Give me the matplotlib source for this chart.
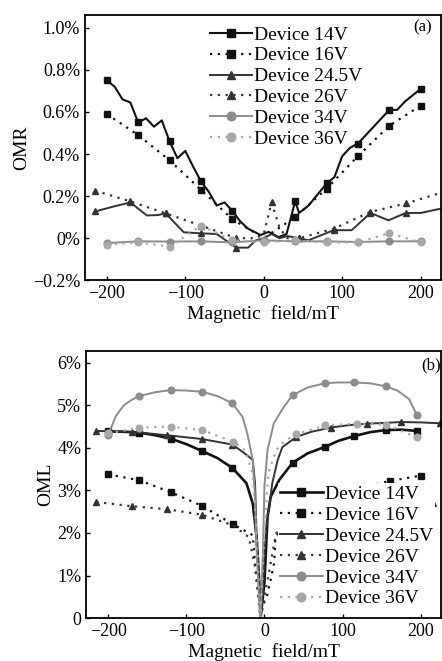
import matplotlib
matplotlib.use("Agg")
import matplotlib.pyplot as plt
import numpy as np

plt.rcParams['font.family'] = ['Liberation Serif', 'DejaVu Serif']

# ---------------- panel (a): OMR ----------------
a_field_14 = [-200, -190, -180, -170, -160, -150, -140, -130, -120, -110, -100, -90, -80, -70,
              -60, -50, -40, -30, -20, -4, 6, 19, 29, 40, 45, 57, 80, 90, 100, 110, 120,
              140, 160, 170, 180, 200]
a_omr_14 = [0.75, 0.72, 0.66, 0.645, 0.55, 0.57, 0.53, 0.56, 0.46, 0.38, 0.415, 0.34, 0.27, 0.22,
            0.155, 0.17, 0.13, 0.08, 0.045, 0.015, 0.03, 0.005, 0.02, 0.175, 0.12, 0.155, 0.26,
            0.29, 0.39, 0.43, 0.45, 0.53, 0.61, 0.61, 0.65, 0.71]
a_mark_14 = [-200, -160, -120, -80, -40, 40, 80, 120, 160, 200]

a_field_16 = [-200, -160, -120, -80, -40, 0, 40, 80, 120, 160, 200]
a_omr_16 = [0.59, 0.49, 0.37, 0.23, 0.09, 0.0, 0.10, 0.235, 0.39, 0.535, 0.63]
a_mark_16 = [-200, -160, -120, -80, -40, 40, 80, 120, 160, 200]

a_field_245 = [-215, -192, -170, -149, -135, -125, -102, -80, -60, -35, -20, -10, 0, 10, 20, 30,
               45, 57, 89, 112, 136, 159, 181, 200, 225]
a_omr_245 = [0.127, 0.15, 0.17, 0.108, 0.11, 0.118, 0.028, 0.023, 0.02, -0.045, -0.045, -0.01,
             0.0, 0.02, 0.0, 0.01, 0.0, -0.01, 0.038, 0.038, 0.12, 0.085, 0.12, 0.12, 0.14]
a_mark_245 = [-215, -170, -125, -80, -35, 45, 89, 136, 181]

a_field_26 = [-215, -170, -125, -80, -35, -10, 0, 10, 20, 30, 45, 89, 136, 181, 225]
a_omr_26 = [0.226, 0.175, 0.118, 0.06, 0.0, 0.0, 0.02, 0.17, 0.05, 0.0, 0.0, 0.045, 0.125,
            0.165, 0.215]
a_mark_26 = [-215, -170, -125, -80, -35, 10, 45, 89, 136, 181]

a_field_34 = [-200, -160, -120, -80, -40, 0, 40, 80, 120, 160, 200]
a_omr_34 = [-0.023, -0.015, -0.016, -0.015, -0.02, -0.01, -0.015, -0.015, -0.018, -0.015, -0.015]

a_field_36 = [-200, -160, -120, -80, -40, 0, 40, 80, 120, 160, 200]
a_omr_36 = [-0.03, -0.02, -0.04, 0.06, -0.01, -0.02, -0.01, -0.02, -0.02, 0.024, -0.02]

# ---------------- panel (b): OML ----------------
b_field_14 = [-200, -180, -160, -140, -120, -100, -80, -60, -41, -23, -15, -10, -6.5, -5, -2, 0,
              4, 8, 19, 36, 55, 78, 95, 115, 135, 155, 175, 195]
b_oml_14 = [4.39, 4.38, 4.36, 4.3, 4.22, 4.09, 3.93, 3.76, 3.53, 3.17, 2.7, 1.9, 0.8, 0.0, 0.5,
            0.85, 2.38, 2.85, 3.25, 3.65, 3.87, 4.03, 4.17, 4.28, 4.37, 4.42, 4.43, 4.4]
b_mark_14 = [-200, -160, -120, -80, -41, 36, 78, 115, 155, 195]

b_field_16 = [-200, -160, -120, -80, -40, -15, -12, -8, -5, -2, 3, 8, 12.5, 14, 40, 80, 120,
              160, 200]
b_oml_16 = [3.38, 3.24, 2.96, 2.64, 2.2, 1.95, 1.3, 0.6, 0.0, 0.3, 0.5, 0.9, 1.3, 1.9, 2.55,
            2.85, 3.05, 3.22, 3.35]
b_mark_16 = [-200, -160, -120, -80, -40, 40, 80, 120, 160, 200]

b_field_245 = [-215, -170, -125, -80, -41, -26, -15, -12, -10, -7, -5, -2, 0, 3, 6, 10, 17, 23,
               41, 60, 85, 110, 131, 155, 175, 200, 225]
b_oml_245 = [4.4, 4.38, 4.3, 4.21, 4.08, 3.88, 3.72, 3.17, 1.9, 0.8, 0.0, 0.6, 1.5, 2.3, 2.6,
             3.17, 3.72, 4.02, 4.26, 4.38, 4.48, 4.54, 4.57, 4.59, 4.61, 4.6, 4.58]
b_mark_245 = [-215, -170, -125, -80, -41, 41, 85, 131, 175, 225]

b_field_26 = [-215, -170, -125, -80, -40, -20, -12, -8, -5, 0, 10, 15, 40, 80, 125, 170, 215]
b_oml_26 = [2.73, 2.63, 2.56, 2.43, 2.18, 1.9, 1.2, 0.5, 0.0, 0.5, 1.5, 2.0, 2.3, 2.45, 2.55,
            2.63, 2.7]
b_mark_26 = [-215, -170, -125, -80, 40, 80, 125, 170, 215]

b_field_34 = [-200, -190, -180, -170, -160, -140, -120, -100, -80, -60, -41, -28, -22, -15,
              -12.5, -10, -6.5, -5, -2, 0, 4, 12, 25, 36, 55, 77, 95, 115, 135, 155, 170,
              185, 195]
b_oml_34 = [4.3, 4.75, 5.0, 5.13, 5.22, 5.31, 5.36, 5.35, 5.32, 5.22, 5.05, 4.73, 4.35, 3.72,
            3.0, 1.6, 0.3, 0.0, 1.5, 3.1, 3.95, 4.58, 4.97, 5.24, 5.42, 5.52, 5.54, 5.54,
            5.52, 5.45, 5.35, 5.15, 4.77]
b_mark_34 = [-200, -160, -120, -80, -41, 36, 77, 115, 155, 195]

b_field_36 = [-200, -160, -120, -80, -40, -25, -15, -10, -5, 0, 5, 15, 25, 40, 78, 118, 155,
              195]
b_oml_36 = [4.34, 4.48, 4.5, 4.42, 4.15, 3.95, 3.4, 2.0, 0.0, 2.0, 3.4, 3.95, 4.15, 4.32,
            4.53, 4.57, 4.55, 4.25]
b_mark_36 = [-200, -160, -120, -80, -40, 40, 78, 118, 155, 195]

labels = ['Device 14V', 'Device 16V', 'Device 24.5V', 'Device 26V', 'Device 34V', 'Device 36V']
colors = ['#111111', '#111111', '#333333', '#333333', '#8c8c8c', '#a8a8a8']
markers = ['s', 's', '^', '^', 'o', 'o']
dotted = (0, (1, 2.5))
styles = ['-', dotted, '-', dotted, '-', dotted]

a_series = [(a_field_14, a_omr_14, a_mark_14), (a_field_16, a_omr_16, a_mark_16),
            (a_field_245, a_omr_245, a_mark_245), (a_field_26, a_omr_26, a_mark_26),
            (a_field_34, a_omr_34, a_field_34), (a_field_36, a_omr_36, a_field_36)]
b_series = [(b_field_14, b_oml_14, b_mark_14), (b_field_16, b_oml_16, b_mark_16),
            (b_field_245, b_oml_245, b_mark_245), (b_field_26, b_oml_26, b_mark_26),
            (b_field_34, b_oml_34, b_mark_34), (b_field_36, b_oml_36, b_mark_36)]

a_yticks = [-0.2, 0, 0.2, 0.4, 0.6, 0.8, 1.0]
a_yticklabels = ['\u22120.2%', '0%', '0.2%', '0.4%', '0.6%', '0.8%', '1.0%']
b_yticks = [0, 1, 2, 3, 4, 5, 6]
b_yticklabels = ['0', '1%', '2%', '3%', '4%', '5%', '6%']
xticks = [-200, -100, 0, 100, 200]
xticklabels = ['\u2212200', '\u2212100', '0', '100', '200']

fig = plt.figure(figsize=(4.42, 6.61), dpi=100)
ax1 = fig.add_axes([0.192, 0.576, 0.806, 0.401])
ax2 = fig.add_axes([0.195, 0.065, 0.803, 0.404])


def draw(ax, series, lw_main):
    handles = []
    for i, (x, y, mk) in enumerate(series):
        x = np.asarray(x, dtype=float)
        idx = list(np.where(np.isin(x, mk))[0])
        lw = lw_main if i == 0 else 1.4
        if styles[i] is dotted:
            lw = 1.6
        h, = ax.plot(x, y, color=colors[i], ls=styles[i], lw=lw, marker=markers[i],
                     markersize=4.8, markevery=idx, label=labels[i])
        handles.append(h)
    return handles


h1 = draw(ax1, a_series, 1.5)
h2 = draw(ax2, b_series, 1.9)

for ax in (ax1, ax2):
    ax.set_xlim(-228, 226)
    ax.set_xticks(xticks)
    ax.set_xticklabels(xticklabels)
    ax.tick_params(direction='in', labelsize=13, length=3, width=1)
    ax.set_xlabel('Magnetic  field/mT', fontsize=14, labelpad=2)
    for s in ax.spines.values():
        s.set_linewidth(1.3)

ax1.set_ylim(-0.2, 1.06)
ax1.set_yticks(a_yticks)
ax1.set_yticklabels(a_yticklabels)
ax1.set_ylabel('OMR', fontsize=14, labelpad=2)
ax1.text(0.975, 0.985, '(a)', transform=ax1.transAxes, ha='right', va='top', fontsize=12)
ax1.legend(handles=h1, loc='upper left', bbox_to_anchor=(0.32, 1.0), frameon=False,
           fontsize=14, labelspacing=0.17, handlelength=2.2, handletextpad=0.1,
           borderaxespad=0.35, borderpad=0.2, markerscale=1.3)

ax2.set_ylim(0, 6.28)
ax2.set_yticks(b_yticks)
ax2.set_yticklabels(b_yticklabels)
ax2.set_ylabel('OML', fontsize=14, labelpad=2)
ax2.text(1.0, 0.975, '(b)', transform=ax2.transAxes, ha='right', va='top', fontsize=12)
ax2.legend(handles=h2, loc='lower left', bbox_to_anchor=(0.535, 0.025), frameon=True,
           fontsize=14, labelspacing=0.17, handlelength=2.2, handletextpad=0.1,
           borderaxespad=0.1, borderpad=0.1, markerscale=1.3, fancybox=False,
           framealpha=1.0, edgecolor='none', facecolor='white')

fig.savefig('out.png', dpi=100)
